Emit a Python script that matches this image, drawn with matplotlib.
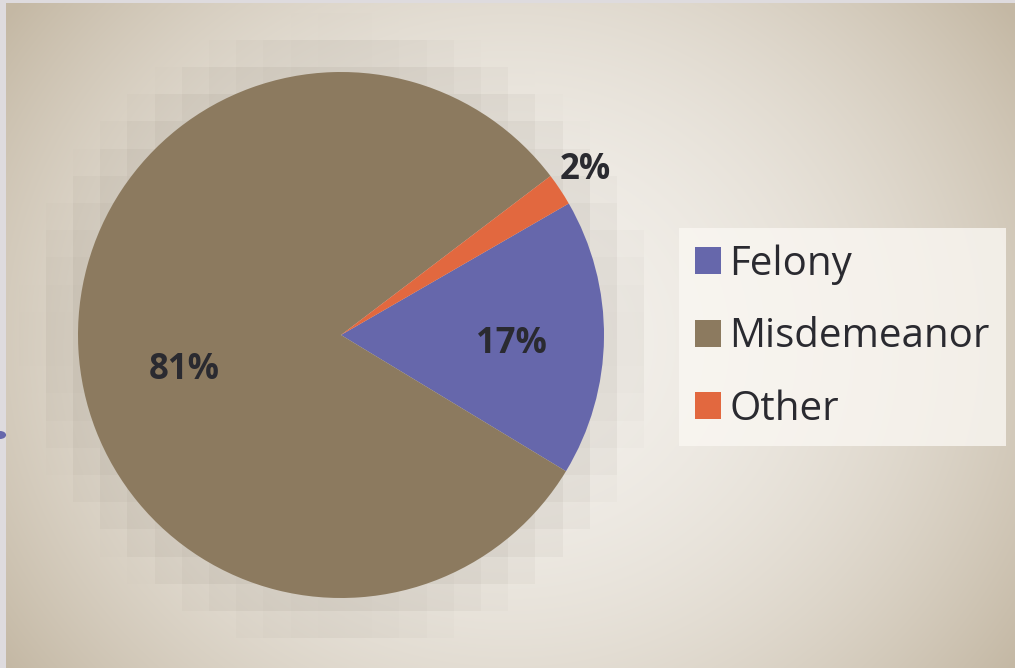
import numpy as np
import matplotlib
matplotlib.use("Agg")
import matplotlib.pyplot as plt
from matplotlib.patches import Patch, Circle

plt.rcParams['font.family'] = ['Open Sans', 'DejaVu Sans']

# data
categories = ['Felony', 'Misdemeanor', 'Other']
shares = [17, 81, 2]
colors = ['#6667AB', '#8C7A5F', '#E2683F']

W, H = 1015, 668
fig = plt.figure(figsize=(W / 100, H / 100), dpi=100)
fig.patch.set_facecolor('#DEDBDE')

# background: soft radial gradient + blocky shadow around the pie
yy, xx = np.mgrid[0:H, 0:W].astype(float)
r = np.sqrt(((xx - 510) / 620) ** 2 + ((yy - 340) / 560) ** 2)
t = np.clip(r, 0, 1) ** 2
light = np.array([243, 240, 235]) / 255
tan = np.array([196, 184, 164]) / 255
img = light * (1 - t[..., None]) + tan * t[..., None]

cx, cy, R = 341, 335, 263
bs = 27.2
bx = (np.floor((xx + 9) / bs) + 0.5) * bs - 9
by = (np.floor((yy + 15) / bs) + 0.5) * bs - 15
d = np.sqrt((bx - cx) ** 2 + (by - cy) ** 2) - R
a = 0.16 * np.clip(1 - (d + 5) / 55, 0, 1)
shade = np.array([110, 100, 85]) / 255
img = img * (1 - a[..., None]) + shade * a[..., None]

bg = fig.add_axes([6 / W, 0, 1 - 6 / W, 1 - 3 / H])
bg.imshow(img[3:, 6:], aspect='auto', interpolation='nearest')
bg.set_axis_off()

# pie
ax = fig.add_axes([(cx - R) / W, (H - cy - R) / H, 2 * R / W, 2 * R / H])
ax.set_facecolor('none')
wedges, texts, autotexts = ax.pie(
    shares, colors=colors, startangle=30, counterclock=False,
    autopct='%.0f%%', pctdistance=0.64, radius=1,
    wedgeprops=dict(linewidth=0),
    textprops=dict(fontsize=25, fontweight='bold', color='#2A2A30'))
ax.set_xlim(-1, 1)
ax.set_ylim(-1, 1)
ax.set_aspect('equal')

# label placement: (distance from centre, angle tweak in degrees)
placement = [(0.65, -2.5), (0.61, 9.5), (1.12, 0.5)]
for w, txt, (dist, tweak) in zip(wedges, autotexts, placement):
    mid = np.deg2rad((w.theta1 + w.theta2) / 2 + tweak)
    txt.set_position((dist * np.cos(mid), dist * np.sin(mid)))

# legend
handles = [Patch(facecolor=c, edgecolor='none') for c in colors]
leg = fig.legend(handles, categories, loc='upper left',
                 bbox_to_anchor=(679 / W, 1 - 228 / H),
                 bbox_transform=fig.transFigure, borderaxespad=0,
                 fontsize=29, frameon=True, fancybox=False,
                 handlelength=0.65, handleheight=0.65, handletextpad=0.2,
                 labelspacing=0.8, borderpad=0.4)
leg.get_frame().set_facecolor((0.98, 0.97, 0.95, 0.35))
leg.get_frame().set_edgecolor('none')
for txt in leg.get_texts():
    txt.set_color('#2A2A30')

# little selection handle on the left edge
fig.patches.append(Circle((0, 1 - 435 / H), 0.006, transform=fig.transFigure,
                          facecolor='#6667AB', edgecolor='none'))

fig.savefig('out.png', dpi=100)
